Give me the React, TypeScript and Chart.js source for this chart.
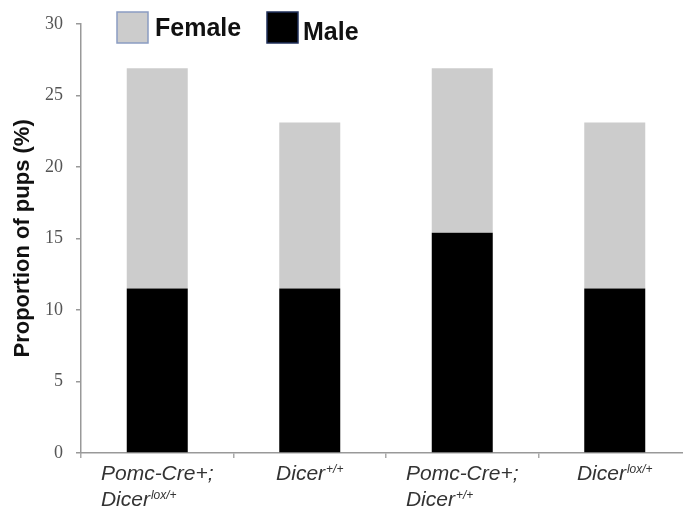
import React, { useEffect, useRef } from "react";
import { Chart, registerables } from "chart.js";

Chart.register(...registerables);

// ---- data ----
const categories = [
  "Pomc-Cre+; Dicer lox/+",
  "Dicer +/+",
  "Pomc-Cre+; Dicer +/+",
  "Dicer lox/+",
];
// label lines: [base text, superscript]
const categoryLines: [string, string][][] = [
  [["Pomc-Cre+;", ""], ["Dicer", "lox/+"]],
  [["Dicer", "+/+"]],
  [["Pomc-Cre+;", ""], ["Dicer", "+/+"]],
  [["Dicer", "lox/+"]],
];
const maleValues = [11.5, 11.5, 15.4, 11.5];
const femaleValues = [15.4, 11.6, 11.5, 11.6];
const seriesNames = ["Female", "Male"];
const yTicks = [0, 5, 10, 15, 20, 25, 30];
const yTitle = "Proportion of pups (%)";

const FEMALE_COLOR = "#cccccc";
const MALE_COLOR = "#000000";

const labelPlugin = {
  id: "customLabels",
  afterDraw(chart: any) {
    const ctx = chart.ctx as CanvasRenderingContext2D;
    const xs = chart.scales.x;
    ctx.save();
    ctx.fillStyle = "#333333";
    ctx.textBaseline = "alphabetic";
    ctx.textAlign = "left";
    const baseFont = "italic 21px 'Liberation Sans', Arial, sans-serif";
    const supFont = "italic 12px 'Liberation Sans', Arial, sans-serif";
    categoryLines.forEach((lines, i) => {
      const cx = xs.getPixelForValue(i);
      const widths = lines.map(([b, s]) => {
        ctx.font = baseFont;
        const wb = ctx.measureText(b).width;
        ctx.font = supFont;
        const ws = s ? ctx.measureText(s).width + 1 : 0;
        return wb + ws;
      });
      const blockW = Math.max(...widths);
      const left = cx - blockW / 2;
      lines.forEach(([b, s], li) => {
        const y = 480 + li * 26;
        ctx.font = baseFont;
        ctx.fillText(b, left, y);
        const wb = ctx.measureText(b).width;
        if (s) {
          ctx.font = supFont;
          ctx.fillText(s, left + wb + 1, y - 7);
        }
      });
    });

    // legend
    const items = [
      { name: seriesNames[0], fill: FEMALE_COLOR, stroke: "#8a9cc2", bx: 117, tx: 155, ty: 36 },
      { name: seriesNames[1], fill: MALE_COLOR, stroke: "#1f2f5a", bx: 267, tx: 303, ty: 40 },
    ];
    items.forEach((it) => {
      ctx.fillStyle = it.fill;
      ctx.fillRect(it.bx, 12, 31, 31);
      ctx.strokeStyle = it.stroke;
      ctx.lineWidth = 1.5;
      ctx.strokeRect(it.bx, 12, 31, 31);
      ctx.fillStyle = "#111111";
      ctx.font = "bold 25px 'Liberation Sans', Arial, sans-serif";
      ctx.fillText(it.name, it.tx, it.ty);
    });
    ctx.restore();
  },
};

export default function App() {
  const ref = useRef<HTMLCanvasElement | null>(null);
  useEffect(() => {
    document.body.style.margin = "0";
    if (!ref.current) return;
    const chart = new Chart(ref.current, {
      type: "bar",
      data: {
        labels: categories,
        datasets: [
          {
            label: seriesNames[1],
            data: maleValues,
            backgroundColor: MALE_COLOR,
            barPercentage: 0.4,
            categoryPercentage: 1,
          },
          {
            label: seriesNames[0],
            data: femaleValues,
            backgroundColor: FEMALE_COLOR,
            barPercentage: 0.4,
            categoryPercentage: 1,
          },
        ],
      },
      options: {
        animation: false,
        responsive: false,
        maintainAspectRatio: false,
        layout: { padding: { top: 20, right: 0, bottom: 0, left: 0 } },
        plugins: {
          legend: { display: false },
          tooltip: { enabled: false },
        },
        scales: {
          x: {
            stacked: true,
            afterFit: (s: any) => {
              s.height = 64;
            },
            grid: {
              display: true,
              drawOnChartArea: false,
              drawTicks: true,
              tickLength: 5,
              color: "#aaaaaa",
              lineWidth: 1.5,
            },
            border: { display: true, color: "#999999", width: 1.5 },
            ticks: { display: false },
          },
          y: {
            stacked: true,
            min: 0,
            max: 30,
            afterFit: (s: any) => {
              s.width = 81;
            },
            afterBuildTicks: (s: any) => {
              s.ticks = yTicks.map((v) => ({ value: v }));
            },
            grid: {
              display: true,
              drawOnChartArea: false,
              drawTicks: true,
              tickLength: 5,
              color: "#999999",
              lineWidth: 1.5,
            },
            border: { display: true, color: "#999999", width: 1.5 },
            ticks: {
              padding: 13,
              color: "#555555",
              font: { family: "'Liberation Serif', 'Times New Roman', serif", size: 18 },
            },
            title: {
              display: true,
              text: yTitle,
              color: "#111111",
              padding: { top: 10, bottom: 0 },
              font: { family: "'Liberation Sans', Arial, sans-serif", size: 22, weight: "bold" },
            },
          },
        },
      },
      plugins: [labelPlugin],
    });
    return () => chart.destroy();
  }, []);
  return (
    <div style={{ width: 683, height: 517, overflow: "hidden", position: "relative" }}>
      <canvas ref={ref} width={691} height={517} style={{ display: "block" }} />
    </div>
  );
}
